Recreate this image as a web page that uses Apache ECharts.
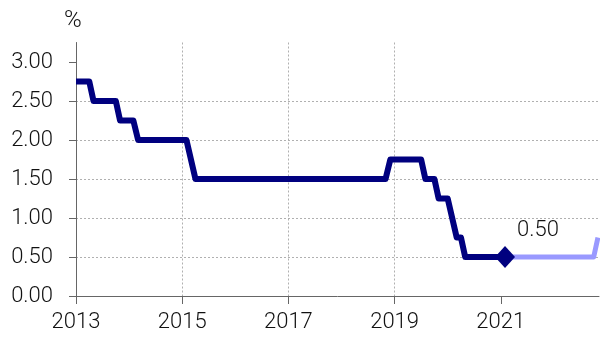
<!DOCTYPE html>
<html>
<head>
<meta charset="utf-8">
<script src="https://cdn.jsdelivr.net/npm/echarts@6/dist/echarts.min.js"></script>
<style>
html,body{margin:0;padding:0;background:#fff;}
#chart{width:600px;height:338px;}
</style>
</head>
<body>
<div id="chart"></div>
<script>
// Policy rate (actual), x in fractional years
var rateYears = [2013.0, 2013.25, 2013.33, 2013.75, 2013.83, 2014.08, 2014.17, 2015.08, 2015.25, 2018.83, 2018.92, 2019.5, 2019.58, 2019.75, 2019.83, 2020.0, 2020.17, 2020.25, 2020.33, 2021.08];
var rateValues = [2.75, 2.75, 2.5, 2.5, 2.25, 2.25, 2.0, 2.0, 1.5, 1.5, 1.75, 1.75, 1.5, 1.5, 1.25, 1.25, 0.75, 0.75, 0.5, 0.5];
// Forecast path
var forecastYears = [2021.08, 2022.75, 2022.83];
var forecastValues = [0.5, 0.5, 0.75];
// Axis ticks
var xTicks = [2013, 2015, 2017, 2019, 2021];
var yTicks = [0, 0.5, 1.0, 1.5, 2.0, 2.5, 3.0];
var yUnit = '%';

function pairs(xs, ys) { return xs.map(function (x, i) { return [x, ys[i]]; }); }
var lastIdx = rateYears.length - 1;

var FONT = 'Roboto';
var FW = 300;
var chart = echarts.init(document.getElementById('chart'), null, {renderer: 'canvas'});
chart.setOption({
  animation: false,
  backgroundColor: '#ffffff',
  title: {
    text: yUnit, left: 59, top: 4,
    textStyle: {fontFamily: FONT, fontSize: 24, fontWeight: FW, color: '#111'}
  },
  grid: {left: 76, right: 1, top: 42.5, bottom: 42},
  xAxis: {
    type: 'value', min: 2013, max: 2022.85,
    axisLine: {show: true, onZero: false, lineStyle: {color: '#666', width: 1}},
    axisTick: {show: true, length: 8, customValues: xTicks, lineStyle: {color: '#666'}},
    axisLabel: {customValues: xTicks, margin: 15, fontFamily: FONT, fontWeight: FW, fontSize: 22, color: '#111',
      formatter: function (v) { return String(Math.round(v)); }},
    splitLine: {show: true, showMinLine: false, showMaxLine: false, lineStyle: {color: '#b0b0b0', type: [2, 2], width: 1}}
  },
  yAxis: {
    type: 'value', min: 0, max: 3.25,
    axisLine: {show: true, lineStyle: {color: '#666', width: 1}},
    axisTick: {show: true, length: 7, customValues: yTicks, lineStyle: {color: '#666'}},
    axisLabel: {customValues: yTicks, margin: 23, fontFamily: FONT, fontWeight: FW, fontSize: 22, color: '#111',
      formatter: function (v) { return v.toFixed(2); }},
    splitLine: {show: true, showMinLine: false, showMaxLine: false, lineStyle: {color: '#b0b0b0', type: [2, 2], width: 1}}
  },
  series: [
    {
      type: 'line', data: pairs(forecastYears, forecastValues), showSymbol: false, z: 2,
      lineStyle: {color: '#9999ff', width: 5, join: 'round'}
    },
    {
      type: 'line', data: pairs(rateYears, rateValues), showSymbol: false, z: 3,
      lineStyle: {color: '#00007f', width: 6, join: 'round'}
    },
    {
      type: 'scatter', z: 4,
      data: [[rateYears[lastIdx], rateValues[lastIdx]]],
      symbol: 'diamond', symbolSize: [20, 22],
      itemStyle: {color: '#00007f', opacity: 1},
      label: {show: true, position: 'right', distance: 2, offset: [0, -27],
        fontFamily: FONT, fontWeight: FW, fontSize: 22, color: '#111',
        formatter: function (p) { return p.value[1].toFixed(2); }}
    }
  ]
});
</script>
</body>
</html>
